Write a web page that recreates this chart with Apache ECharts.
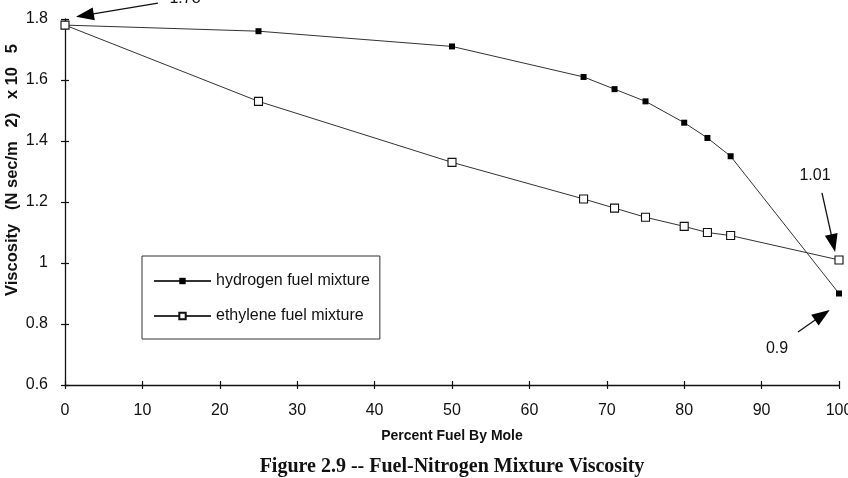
<!DOCTYPE html>
<html><head><meta charset="utf-8">
<script src="https://cdn.jsdelivr.net/npm/echarts@6/dist/echarts.min.js"></script>
<style>html,body{margin:0;padding:0;background:#fff}#c{width:848px;height:478px}</style>
</head><body><div id="c"></div>
<script>
// ---- data ----
const xValues = [0, 25, 50, 67, 71, 75, 80, 83, 86, 100];
const hydrogen = [1.78, 1.76, 1.71, 1.61, 1.57, 1.53, 1.46, 1.41, 1.35, 0.90];
const ethylene = [1.78, 1.53, 1.33, 1.21, 1.18, 1.15, 1.12, 1.10, 1.09, 1.01];
const seriesNames = ['hydrogen fuel mixture', 'ethylene fuel mixture'];
const xMin = 0, xMax = 100, xInterval = 10;
const yMin = 0.6, yMax = 1.8, yInterval = 0.2;
const xTitle = 'Percent Fuel By Mole';
const yTitle = 'Viscosity   (N sec/m   2)   x 10   5';
const caption = 'Figure 2.9 -- Fuel-Nitrogen Mixture Viscosity';
// annotations (data coordinates)
const annotLabels = ['1.78', '1.01', '0.9'];
const annotLabelAt = [[15.5, 1.866], [96.9, 1.285], [92.0, 0.72]];
const annotArrowFrom = [[12.0, 1.852], [97.8, 1.23], [94.7, 0.774]];
const annotArrowTo = [[1.42, 1.807], [99.5, 1.036], [98.8, 0.846]];

const sans = 'Liberation Sans, Arial, Helvetica, sans-serif';
const chart = echarts.init(document.getElementById('c'), null, {renderer: 'canvas'});
const pair = (xs, ys) => xs.map((x, i) => [x, ys[i]]);
const axisLine = {show: true, lineStyle: {color: '#111', width: 1.3}};
const tickOut = {show: true, inside: false, length: 4, lineStyle: {color: '#111', width: 1.2}};
const tickIn = {show: true, inside: true, length: 4, lineStyle: {color: '#111', width: 1.2}};

chart.setOption({
  animation: false,
  backgroundColor: '#fff',
  grid: {left: 65, right: 9, top: 19, bottom: 93, containLabel: false, outerBoundsMode: 'none'},
  xAxis: [
    {type: 'value', position: 'bottom', min: xMin, max: xMax, interval: xInterval,
     axisLine: axisLine, axisTick: tickOut, splitLine: {show: false},
     axisLabel: {fontFamily: sans, fontSize: 16, color: '#111', margin: 18}},
    {type: 'value', position: 'bottom', min: xMin, max: xMax, interval: xInterval,
     axisLine: {show: false}, axisTick: tickIn, splitLine: {show: false}, axisLabel: {show: false}}
  ],
  yAxis: [
    {type: 'value', position: 'left', min: yMin, max: yMax, interval: yInterval,
     axisLine: axisLine, axisTick: tickOut, splitLine: {show: false},
     axisLabel: {fontFamily: sans, fontSize: 16, color: '#111', margin: 17}},
    {type: 'value', position: 'left', min: yMin, max: yMax, interval: yInterval,
     axisLine: {show: false}, axisTick: tickIn, splitLine: {show: false}, axisLabel: {show: false}}
  ],
  legend: {
    orient: 'vertical', left: 142, top: 256, padding: [17, 10, 15, 11],
    itemGap: 19, itemWidth: 57, itemHeight: 8,
    borderColor: '#333', borderWidth: 1, backgroundColor: '#fff',
    textStyle: {fontFamily: sans, fontSize: 16, color: '#111'},
    data: seriesNames
  },
  series: [
    {name: seriesNames[0], type: 'line', xAxisIndex: 0, yAxisIndex: 0,
     data: pair(xValues, hydrogen), symbol: 'rect', symbolSize: 6,
     lineStyle: {color: '#333', width: 1}, itemStyle: {color: '#000', borderColor: '#000', borderWidth: 0}},
    {name: seriesNames[1], type: 'line', xAxisIndex: 0, yAxisIndex: 0,
     data: pair(xValues, ethylene), symbol: 'rect', symbolSize: 8,
     lineStyle: {color: '#333', width: 1}, itemStyle: {color: '#fff', borderColor: '#111', borderWidth: 1.1}}
  ]
});

const elements = [
  {type: 'text', x: 12, y: 170, rotation: Math.PI / 2,
   style: {text: yTitle, font: 'bold 16.5px ' + sans, fill: '#111', textAlign: 'center', textVerticalAlign: 'middle'}},
  {type: 'text', x: 452, y: 436,
   style: {text: xTitle, font: 'bold 14px ' + sans, fill: '#111', textAlign: 'center', textVerticalAlign: 'middle'}},
  {type: 'text', x: 452, y: 467,
   style: {text: caption, font: 'bold 20px Liberation Serif, Times New Roman, serif', fill: '#111', textAlign: 'center', textVerticalAlign: 'middle'}}
];
const toPx = p => chart.convertToPixel({gridIndex: 0}, p);
annotLabels.forEach((t, i) => {
  const lp = toPx(annotLabelAt[i]);
  elements.push({type: 'text', x: lp[0], y: lp[1],
    style: {text: t, font: '16px ' + sans, fill: '#111', textAlign: 'center', textVerticalAlign: 'middle'}});
  const f = toPx(annotArrowFrom[i]), tp = toPx(annotArrowTo[i]);
  const dx = tp[0] - f[0], dy = tp[1] - f[1], len = Math.hypot(dx, dy);
  const ux = dx / len, uy = dy / len, nx = -uy, ny = ux;
  const hl = 18, hw = 6.5;
  const bx = tp[0] - ux * hl, by = tp[1] - uy * hl;
  elements.push({type: 'line', shape: {x1: f[0], y1: f[1], x2: bx + ux * 2, y2: by + uy * 2},
    style: {stroke: '#111', lineWidth: 1.3}});
  elements.push({type: 'polygon', shape: {points: [[tp[0], tp[1]], [bx + nx * hw, by + ny * hw], [bx - nx * hw, by - ny * hw]]},
    style: {fill: '#000'}});
});
chart.setOption({graphic: {elements: elements}});
</script></body></html>
